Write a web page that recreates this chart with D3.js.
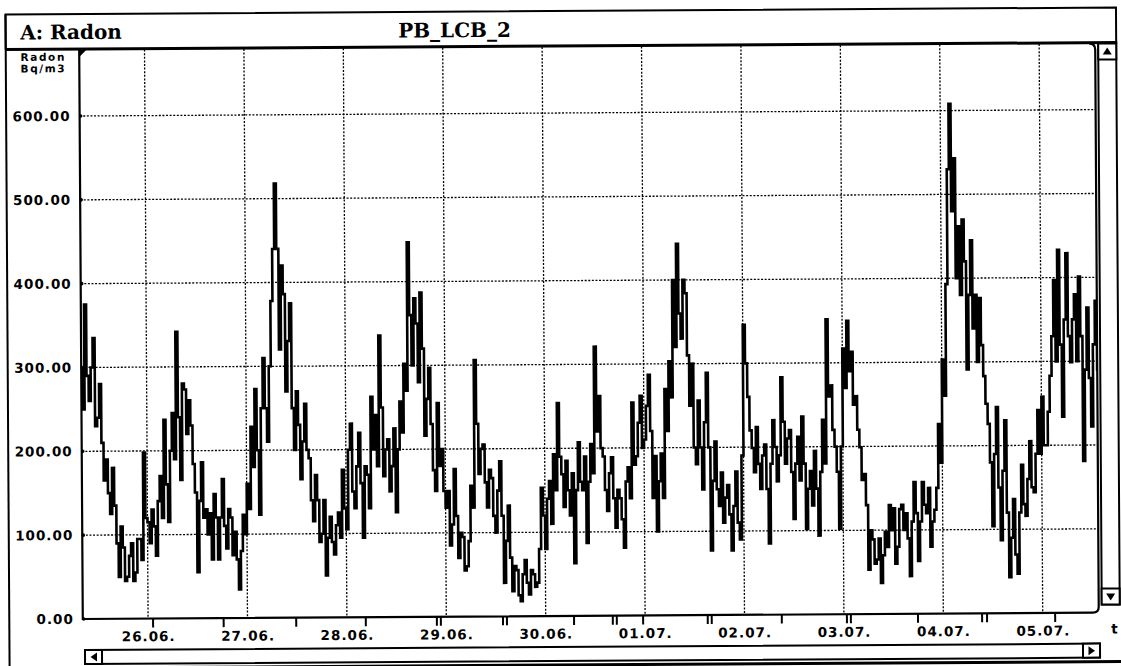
<!DOCTYPE html>
<html lang="de">
<head>
  <meta charset="UTF-8">
  <title>Radon PB_LCB_2</title>
  <script src="https://d3js.org/d3.v7.min.js"></script>
  <style>
    body { margin: 0; background: #fff; }
    svg { display: block; }
    .num { font-family: "DejaVu Sans", sans-serif; font-weight: bold; font-size: 13.5px; letter-spacing: 1px; fill: #000; }
    .unit { font-family: "DejaVu Sans", sans-serif; font-weight: bold; font-size: 10.5px; letter-spacing: 1.6px; fill: #000; }
    .head { font-family: "DejaVu Serif", serif; font-weight: bold; font-size: 20px; fill: #000; }
    .grid line { stroke: #000; stroke-width: 1.3; stroke-dasharray: 2, 1.6; }
  </style>
</head>
<body>
<div id="chart"></div>
<script>
const channelTitle = "A: Radon";
const stationTitle = "PB_LCB_2";
const unitLines = ["Radon", "Bq/m3"];
const yTicks = [0, 100, 200, 300, 400, 500, 600];
const dayTicks = ["2001-06-26", "2001-06-27", "2001-06-28", "2001-06-29", "2001-06-30",
                  "2001-07-01", "2001-07-02", "2001-07-03", "2001-07-04", "2001-07-05"];
const viewRange = ["2001-06-25 08:14", "2001-07-05 13:32"];
const seriesStart = "2001-06-25 08:00";

// radon, Bq/m3, one value every 30 min (one row = 12 h)
const radon = [
  300,250,375,290,260,300,335,230,240,280,210,165,190,150,125,180,135,90,50,110,85,45,50,75,
  90,45,55,95,95,70,198,120,115,90,130,110,75,140,170,120,237,160,115,200,245,190,342,240,
  165,280,273,220,260,230,184,150,55,140,186,120,130,100,125,70,148,120,70,120,166,110,83,130,
  120,75,103,70,34,80,123,100,160,130,228,180,273,200,123,250,310,250,210,300,378,440,518,440,
  320,420,386,270,330,375,250,200,270,230,165,210,255,200,190,140,115,170,140,90,100,140,50,95,
  120,90,75,110,125,95,176,130,105,200,231,150,130,180,220,160,95,180,170,130,263,200,241,180,
  336,250,168,200,212,150,180,225,125,200,257,220,302,270,447,360,300,380,350,280,387,320,216,260,
  297,230,175,150,255,180,200,150,130,150,85,110,176,120,70,100,95,55,60,90,156,130,306,230,
  170,200,205,160,130,175,165,120,100,150,185,120,40,90,132,70,30,60,55,25,18,50,67,40,
  26,55,50,35,40,80,153,120,80,140,161,110,193,150,254,190,169,130,185,150,120,170,63,150,
  207,160,150,190,87,160,205,170,321,220,262,200,190,150,125,170,189,140,105,150,140,115,81,160,
  177,140,254,180,190,230,262,200,210,250,287,220,140,190,100,160,193,140,270,220,303,260,400,320,
  443,360,330,400,384,310,250,300,200,180,256,200,150,230,289,200,77,160,207,150,130,170,110,140,
  155,120,77,130,171,110,90,190,346,300,260,220,199,170,224,180,150,190,203,150,85,180,232,200,
  159,190,283,230,180,210,220,170,114,180,212,160,236,180,102,150,171,130,195,150,94,170,232,180,
  352,260,273,220,200,170,102,200,317,270,350,290,313,250,260,220,199,160,167,130,53,100,89,60,
  65,90,37,70,98,80,130,100,126,60,80,125,130,100,120,90,45,110,157,120,63,110,157,130,
  120,150,80,110,124,150,226,180,303,260,393,530,608,480,543,400,462,380,470,420,291,380,445,340,
  380,300,376,320,283,250,226,180,104,190,246,150,87,170,230,120,43,90,136,70,47,120,177,130,
  116,160,205,150,144,190,242,190,258,200,200,240,283,330,397,300,433,320,234,350,429,330,299,350,
  380,300,401,330,181,290,364,280,222,320,372,290,218,300,300
];

// marks under the time axis, days after 25.06. 00:00
const markDays = [1.05, 1.76, 2.49, 3.19, 3.905, 3.945, 4.57, 4.61, 5.285, 5.675, 5.715,
                  5.98, 6.63, 6.67, 7.375, 8.03, 8.07, 8.745, 9.39, 9.44, 10.125];

const W = 1121, H = 666;
const L = 81, R = 1097, T = 47, B = 616;

const parse = d3.timeParse("%Y-%m-%d %H:%M");
const parseDay = d3.timeParse("%Y-%m-%d");
const x = d3.scaleTime().domain(viewRange.map(parse)).range([L, R]);
const y = d3.scaleLinear().domain([0, 600]).range([B, 113]);

const t0 = parse(seriesStart);
const data = radon.map((v, i) => ({ t: d3.timeMinute.offset(t0, 30 * i), v: v }));
const base = parseDay("2001-06-25");

const svg = d3.select("#chart").append("svg")
  .attr("width", W)
  .attr("height", H);

svg.append("defs").append("clipPath").attr("id", "plotClip")
  .append("rect").attr("x", L).attr("y", T).attr("width", R - L).attr("height", B - T);

// the scan is a little bit skewed
const g = svg.append("g").attr("transform", "rotate(-0.36 560 333)");

// grid
const grid = g.append("g").attr("class", "grid");
grid.selectAll(".hg")
  .data(yTicks.filter(d => d > 0))
  .enter().append("line")
  .attr("x1", L).attr("x2", R)
  .attr("y1", d => y(d)).attr("y2", d => y(d));
grid.selectAll(".vg")
  .data(dayTicks.map(parseDay))
  .enter().append("line")
  .attr("x1", d => x(d)).attr("x2", d => x(d))
  .attr("y1", T).attr("y2", B);

g.selectAll(".ydot")
  .data(yTicks)
  .enter().append("circle")
  .attr("cx", L + 1).attr("cy", d => y(d)).attr("r", 1.8);

// radon series
const line = d3.line()
  .x(d => x(d.t))
  .y(d => y(d.v))
  .curve(d3.curveStepAfter);

g.append("path")
  .datum(data)
  .attr("clip-path", "url(#plotClip)")
  .attr("fill", "none")
  .attr("stroke", "#000")
  .attr("stroke-width", 2.6)
  .attr("d", line);

// axes
const yAxis = g.append("g")
  .attr("transform", `translate(${L},0)`)
  .call(d3.axisLeft(y).tickValues(yTicks).tickFormat(d3.format(".2f")).tickSize(0).tickPadding(9));
yAxis.select(".domain").remove();
yAxis.selectAll("text").attr("class", "num").attr("font-family", null).attr("font-size", null);

const xAxis = g.append("g")
  .attr("transform", `translate(0,${B})`)
  .call(d3.axisBottom(x).tickValues(dayTicks.map(parseDay)).tickFormat(d3.timeFormat("%d.%m.")).tickSize(0).tickPadding(13));
xAxis.select(".domain").remove();
xAxis.selectAll("text").attr("class", "num").attr("font-family", null).attr("font-size", null);

g.selectAll(".mark")
  .data(markDays)
  .enter().append("line")
  .attr("x1", d => x(new Date(+base + d * 864e5)))
  .attr("x2", d => x(new Date(+base + d * 864e5)))
  .attr("y1", B).attr("y2", B + 9)
  .attr("stroke", "#000").attr("stroke-width", 2);

g.append("text").attr("class", "num")
  .attr("x", 1113).attr("y", 637).attr("text-anchor", "middle")
  .text("t");

// window frame
const frame = g.append("g").attr("fill", "none").attr("stroke", "#000");
frame.append("line").attr("x1", 7.5).attr("x2", 7.5).attr("y1", 11).attr("y2", 680).attr("stroke-width", 2);
frame.append("path").attr("d", "M7.5,46 V11 H1118 V46").attr("stroke-width", 2);
frame.append("line").attr("x1", 7).attr("x2", 1119).attr("y1", 46).attr("y2", 46).attr("stroke-width", 3);
frame.append("path")
  .attr("d", `M${L},${T} V${B} H${R - 6} Q${R},${B} ${R},${B - 6} V${T + 6} Q${R},${T} ${R - 6},${T}`)
  .attr("stroke-width", 2.2);
g.append("path").attr("d", `M${L},${T} h7 l-7,7 z`).attr("fill", "#000");

// vertical scrollbar
const vs = g.append("g").attr("stroke", "#000").attr("stroke-width", 2);
vs.append("rect").attr("x", 1100).attr("y", 47).attr("width", 18).attr("height", 561).attr("fill", "#fff");
vs.append("rect").attr("x", 1100).attr("y", 47).attr("width", 18).attr("height", 16).attr("fill", "#fff");
vs.append("rect").attr("x", 1100).attr("y", 592).attr("width", 18).attr("height", 16).attr("fill", "#fff");
vs.append("path").attr("d", "M1109,51 L1113.5,58 L1104.5,58 Z").attr("fill", "#000").attr("stroke", "none");
vs.append("path").attr("d", "M1104.5,597 L1113.5,597 L1109,604 Z").attr("fill", "#000").attr("stroke", "none");

// horizontal scrollbar
const hs = g.append("g").attr("stroke", "#000").attr("stroke-width", 2);
hs.append("rect").attr("x", 83).attr("y", 647).attr("width", 1015).attr("height", 14).attr("fill", "#fff");
hs.append("rect").attr("x", 83).attr("y", 647).attr("width", 17).attr("height", 14).attr("fill", "#fff");
hs.append("rect").attr("x", 1081).attr("y", 647).attr("width", 17).attr("height", 14).attr("fill", "#fff");
hs.append("path").attr("d", "M88.5,654 L95,649.5 L95,658.5 Z").attr("fill", "#000").attr("stroke", "none");
hs.append("path").attr("d", "M1093,654 L1086.5,649.5 L1086.5,658.5 Z").attr("fill", "#000").attr("stroke", "none");
g.append("line").attr("x1", 81).attr("x2", 1130).attr("y1", 665).attr("y2", 665)
  .attr("stroke", "#000").attr("stroke-width", 3);

// titles
g.append("text").attr("class", "head").attr("x", 22).attr("y", 36).text(channelTitle);
g.append("text").attr("class", "head").attr("x", 400).attr("y", 36.5).text(stationTitle);
g.selectAll(".unit")
  .data(unitLines)
  .enter().append("text")
  .attr("class", "unit")
  .attr("x", 45).attr("y", (d, i) => 57.5 + i * 11.5)
  .attr("text-anchor", "middle")
  .text(d => d);
</script>
</body>
</html>
